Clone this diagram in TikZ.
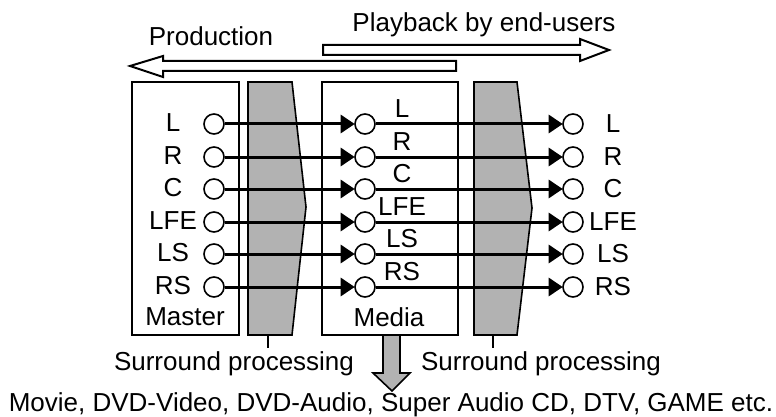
\documentclass[tikz,border=0pt]{standalone}
\usepackage{fontspec}
\setmainfont{Liberation Sans}
\usetikzlibrary{arrows.meta}
\definecolor{procgray}{gray}{0.70}
\tikzset{
  txt/.style={font=\fontsize{26pt}{30pt}\selectfont, inner sep=0pt},
  box/.style={draw=black, line width=2pt},
  port/.style={circle, draw=black, line width=1.6pt, minimum size=20pt, inner sep=0pt},
  sig/.style={line width=3pt, -{Triangle[length=14pt,width=18pt]}, shorten >=-0.5pt},
  graybox/.style={draw=black, line width=1.6pt, fill=procgray},
  bigarrow/.style={draw=black, line width=2pt, fill=white, line join=miter},
}
\begin{document}
\begin{tikzpicture}[x=1pt, y=-1pt]
\useasboundingbox (0,0) rectangle (776,417);

% top arrows
\draw[bigarrow] (323,45) -- (580,45) -- (580,39) -- (609,50) -- (580,61) -- (580,55) -- (323,55) -- cycle;
\draw[bigarrow] (130,66) -- (163,56) -- (163,61) -- (456,61) -- (456,71) -- (163,71) -- (163,77) -- cycle;
\node[txt, anchor=base] (prod) at (211,46) {Production};
\node[txt, anchor=base] (play) at (484,32) {Playback by end-users};

% boxes
\draw[box] (132,82) rectangle (239,335);
\draw[box] (322,82) rectangle (458,335);
\node[txt] (master) at (185,317) {Master};
\node[txt] (media) at (389,317) {Media};

% surround processing shapes
\draw[graybox] (248,82) -- (292,82) -- (306,207) -- (292,335) -- (248,335) -- cycle;
\draw[graybox] (474,82) -- (517,82) -- (532,208) -- (517,335) -- (474,335) -- cycle;
\coordinate (t1a) at (268,336);
\coordinate (t1b) at (268,348);
\coordinate (t2a) at (493,336);
\coordinate (t2b) at (493,348);
\draw[line width=1.5pt] (t1a) -- (t1b);
\draw[line width=1.5pt] (t2a) -- (t2b);
\node[txt, anchor=base] (sp1) at (234,370) {Surround processing};
\node[txt, anchor=base] (sp2) at (541,370) {Surround processing};

% channels
\foreach \name/\lab/\y in {l/L/124, r/R/157, c/C/189, lfe/LFE/222, ls/LS/254, rs/RS/287} {
  \node[port] (m\name) at (214,\y) {};
  \node[port] (d\name) at (365,\y) {};
  \node[port] (u\name) at (573,\y) {};
  \node[txt] (ml\name) at (173,\y-1) {\lab};
  \node[txt] (dl\name) at (402,\y-15) {\lab};
  \node[txt] (ul\name) at (613,\y) {\lab};
  \draw[sig] (m\name) -- (d\name);
  \draw[sig] (d\name) -- (u\name);
}

% media down arrow
\draw[draw=black, line width=1.6pt, fill=procgray]
  (383,335) -- (400,335) -- (400,373) -- (410,373) -- (392,391) -- (373,373) -- (383,373) -- cycle;
\node[txt, anchor=base] (uses) at (391,411) {Movie, DVD-Video, DVD-Audio, Super Audio CD, DTV, GAME etc.};
\end{tikzpicture}
\end{document}
